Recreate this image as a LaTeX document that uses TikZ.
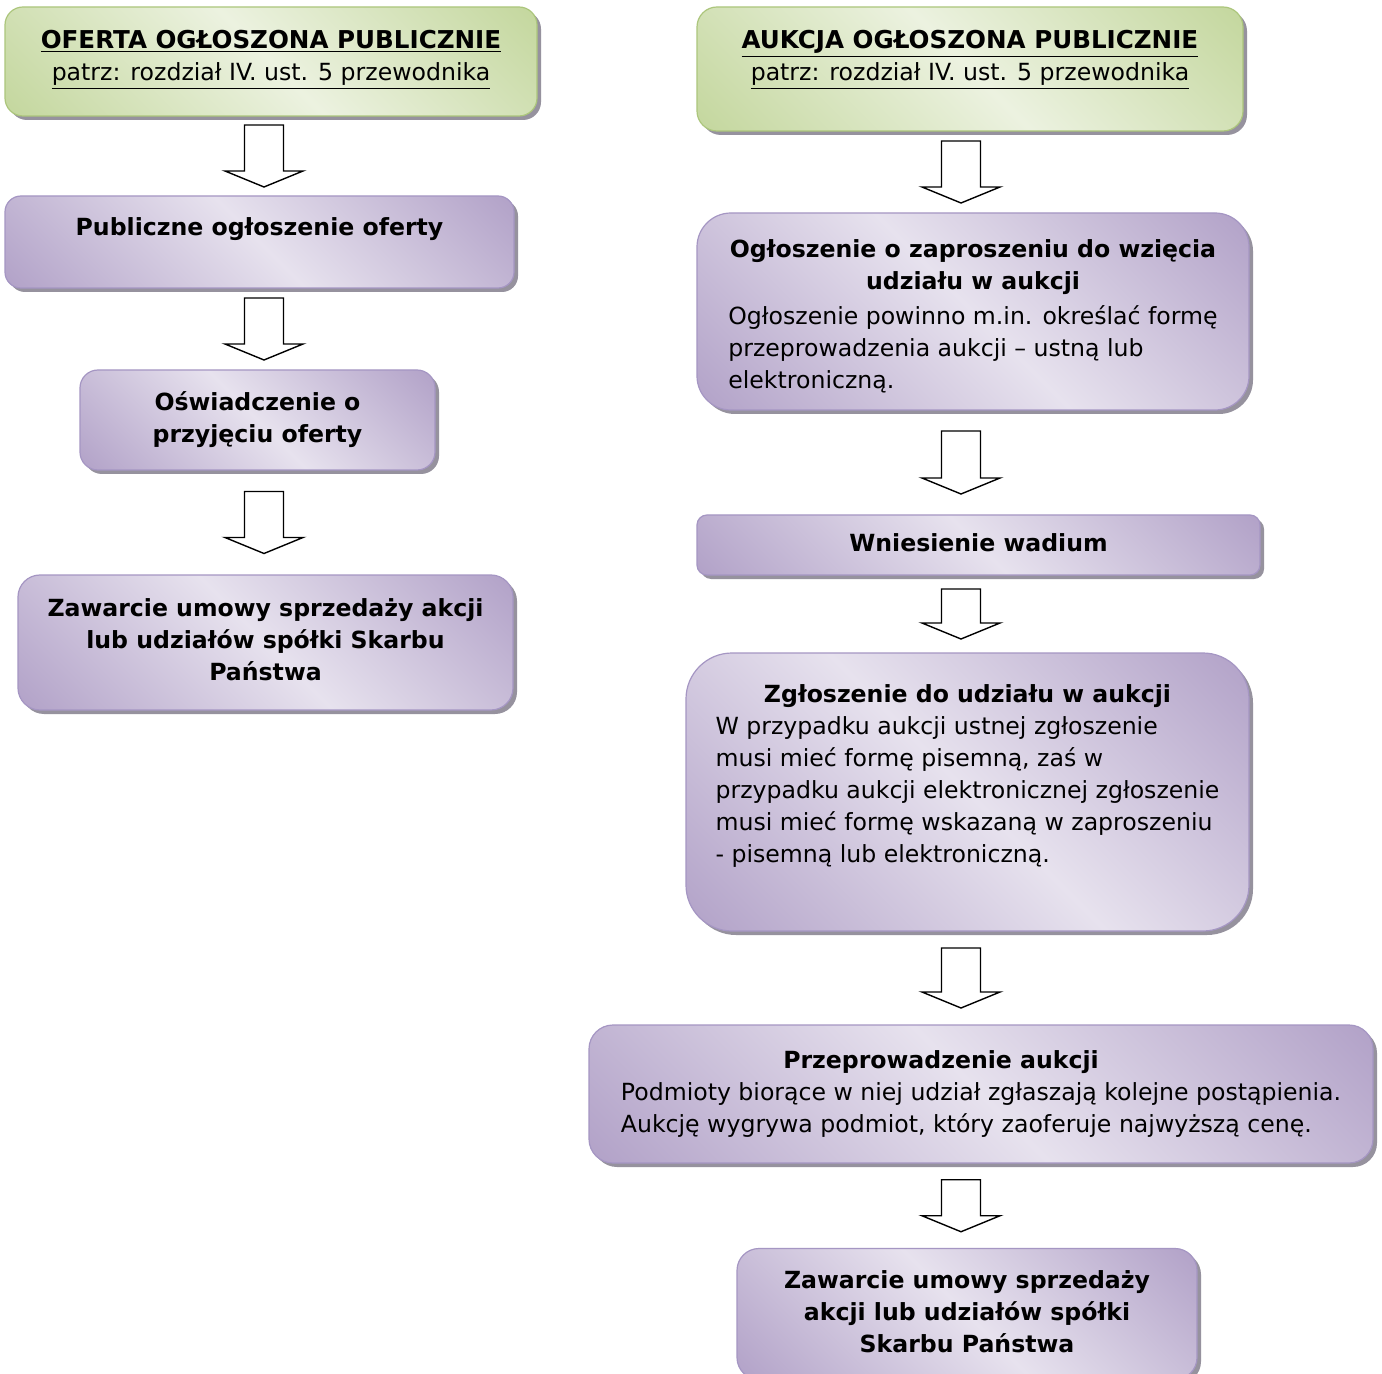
\documentclass[tikz,border=0pt]{standalone}
\usepackage{fontspec}
\setmainfont{DejaVu Sans}
\usetikzlibrary{calc,shadows}
\definecolor{lilaclight}{RGB}{231,226,238}
\definecolor{lilacdark}{RGB}{178,162,200}
\definecolor{lilacline}{RGB}{165,150,195}
\definecolor{leaflight}{RGB}{236,242,224}
\definecolor{leafdark}{RGB}{196,215,158}
\definecolor{leafline}{RGB}{172,198,124}
\definecolor{shadowgrey}{RGB}{150,146,158}
\pgfdeclarehorizontalshading{lilacband}{100bp}{color(0bp)=(lilacdark); color(15bp)=(lilacdark); color(50bp)=(lilaclight); color(85bp)=(lilacdark); color(100bp)=(lilacdark)}
\pgfdeclarehorizontalshading{leafband}{100bp}{color(0bp)=(leafdark); color(15bp)=(leafdark); color(50bp)=(leaflight); color(85bp)=(leafdark); color(100bp)=(leafdark)}
\tikzstyle{stage}=[inner sep=0pt, draw=lilacline, line width=0.6pt, shading=lilacband, shading angle=45, drop shadow={shadow xshift=2pt, shadow yshift=-2pt, fill=shadowgrey, opacity=1}, font=\fontsize{11.8pt}{16pt}\selectfont]
\tikzstyle{headstage}=[stage, draw=leafline, shading=leafband]
\tikzstyle{bigarrow}=[draw=black, fill=white, line width=0.7pt, line join=miter]
\newcommand{\boxlines}[1]{\begin{tabular}{@{}c@{}}#1\end{tabular}}
\newcommand{\droproom}[1]{\rule[-#1]{0pt}{#1}}
\newcommand{\headline}[1]{\underline{\fontsize{12.3pt}{16pt}\selectfont\textbf{#1}}}
% block arrow between two boxes: from, to, axis, half length
\newcommand{\flowarrow}[4]{%
  \draw[bigarrow] let \p1=($(#1.south)!0.5!(#2.north)$), \p2=(#3) in
    (\x2-9.75pt,\y1+#4) -- (\x2+9.75pt,\y1+#4) -- (\x2+9.75pt,\y1-#4+8pt)
    -- (\x2+19.5pt,\y1-#4+8pt) -- (\x2,\y1-#4) -- (\x2-19.5pt,\y1-#4+8pt)
    -- (\x2-9.75pt,\y1-#4+8pt) -- cycle;}

\begin{document}
\begin{tikzpicture}[x=0.5pt,y=-0.5pt]
\path[use as bounding box, fill=white] (0,0) rectangle (1382,1374);
\coordinate (leftaxis) at (264,0);
\coordinate (rightaxis) at (961,0);

% offer
\node[headstage, rounded corners=9pt, minimum width=266pt, minimum height=54.5pt] (offer) at (271,61.5) {\boxlines{\headline{OFERTA OGŁOSZONA PUBLICZNIE}\\\underline{patrz: rozdział IV. ust. 5 przewodnika}\droproom{8pt}}};
\node[stage, rounded corners=8pt, minimum width=254.5pt, minimum height=46pt] (announce) at (259.5,242) {\boxlines{\textbf{Publiczne ogłoszenie oferty}\droproom{18pt}}};
\node[stage, rounded corners=9pt, minimum width=177.5pt, minimum height=50pt] (accept) at (257.5,420) {\boxlines{\textbf{Oświadczenie o}\\\textbf{przyjęciu oferty}}};
\node[stage, rounded corners=11pt, minimum width=247.5pt, minimum height=67.5pt] (contract) at (265.5,642.5) {\boxlines{\textbf{Zawarcie umowy sprzedaży akcji}\\\textbf{lub udziałów spółki Skarbu}\\\textbf{Państwa}}};

% auction
\node[headstage, rounded corners=10pt, minimum width=273pt, minimum height=62pt] (auction) at (970,69) {\boxlines{\headline{AUKCJA OGŁOSZONA PUBLICZNIE}\\\underline{patrz: rozdział IV. ust. 5 przewodnika}\droproom{16pt}}};
\node[stage, rounded corners=17pt, minimum width=276pt, minimum height=98.5pt] (invite) at (973,311.5) {\begin{tabular}{@{}l@{}}
\multicolumn{1}{@{}c@{}}{\rule{0pt}{16.5pt}\textbf{Ogłoszenie o zaproszeniu do wzięcia}}\\
\multicolumn{1}{@{}c@{}}{\textbf{udziału w aukcji}}\\[1.5pt]
Ogłoszenie powinno m.in. określać formę\\
przeprowadzenia aukcji – ustną lub\\
elektroniczną.
\end{tabular}};
\node[stage, rounded corners=5pt, minimum width=281.5pt, minimum height=30pt] (deposit) at (978.5,545) {\boxlines{\textbf{Wniesienie wadium}}};
\node[stage, rounded corners=23pt, minimum width=281.5pt, minimum height=139pt] (entry) at (967.5,792) {\begin{tabular}{@{}l@{}}
\multicolumn{1}{@{}c@{}}{\textbf{Zgłoszenie do udziału w aukcji}}\\
W przypadku aukcji ustnej zgłoszenie\\
musi mieć formę pisemną, zaś w\\
przypadku aukcji elektronicznej zgłoszenie\\
musi mieć formę wskazaną w zaproszeniu\\
- pisemną lub elektroniczną.\droproom{21pt}
\end{tabular}};
\node[stage, rounded corners=12pt, minimum width=392pt, minimum height=69pt] (bidding) at (981,1094) {\begin{tabular}{@{}l@{}}
\multicolumn{1}{@{}c@{}}{\textbf{Przeprowadzenie aukcji}\hspace*{40pt}}\\
Podmioty biorące w niej udział zgłaszają kolejne postąpienia.\\
Aukcję wygrywa podmiot, który zaoferuje najwyższą cenę.
\end{tabular}};
\node[stage, rounded corners=11pt, minimum width=230pt, minimum height=65.5pt] (final) at (967,1314) {\boxlines{\textbf{Zawarcie umowy sprzedaży}\\\textbf{akcji lub udziałów spółki}\\\textbf{Skarbu Państwa}}};

\flowarrow{offer}{announce}{leftaxis}{15.5pt}
\flowarrow{announce}{accept}{leftaxis}{15.5pt}
\flowarrow{accept}{contract}{leftaxis}{15.5pt}
\flowarrow{auction}{invite}{rightaxis}{15.5pt}
\flowarrow{invite}{deposit}{rightaxis}{15.75pt}
\flowarrow{deposit}{entry}{rightaxis}{12.5pt}
\flowarrow{entry}{bidding}{rightaxis}{15pt}
\flowarrow{bidding}{final}{rightaxis}{13pt}
\end{tikzpicture}
\end{document}
